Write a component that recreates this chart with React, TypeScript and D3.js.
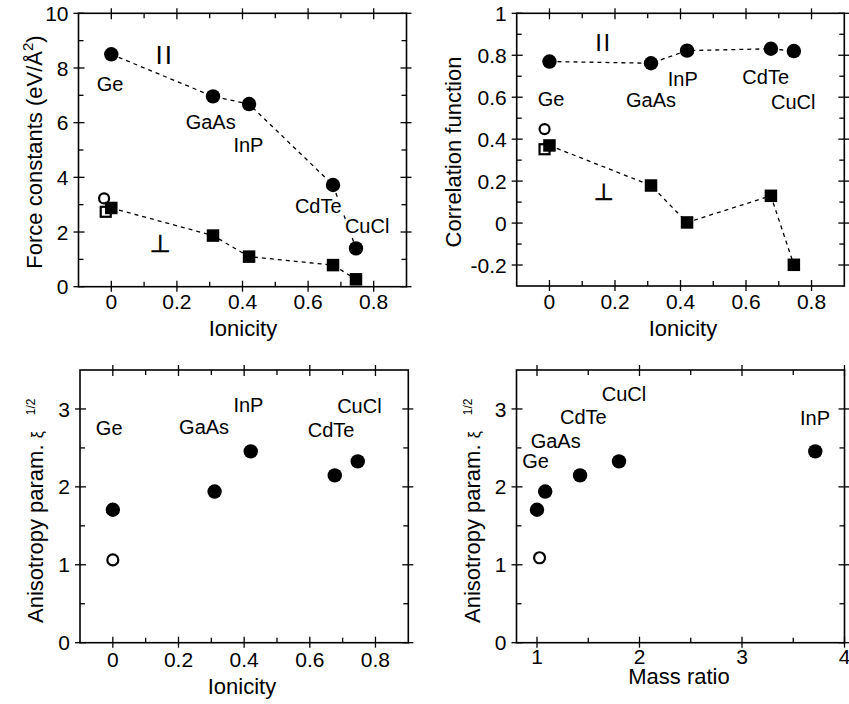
import React from "react";
import * as d3 from "d3";

// ---------- data ----------
const materials = ["Ge", "GaAs", "InP", "CdTe", "CuCl"];
const ionicity = [0, 0.31, 0.42, 0.676, 0.746];
const massRatio = [1.0, 1.08, 3.715, 1.42, 1.8];
const forceParallel = [8.5, 6.96, 6.68, 3.72, 1.4];
const forcePerp = [2.88, 1.87, 1.1, 0.79, 0.27];
const corrParallel = [0.77, 0.762, 0.822, 0.831, 0.82];
const corrPerp = [0.37, 0.179, 0.003, 0.13, -0.199];
const anisotropy = [1.706, 1.94, 2.455, 2.147, 2.327];

// open symbols (Ge reference values): [x, y]
const forceRefCircle = [-0.022, 3.23];
const forceRefSquare = [-0.017, 2.74];
const corrRefCircle = [-0.015, 0.448];
const corrRefSquare = [-0.015, 0.352];
const anisoRefIonicity = [0.0, 1.063];
const anisoRefMass = [1.025, 1.09];

// ticks
const ionTicks = [0, 0.2, 0.4, 0.6, 0.8];
const ionMinor = [-0.1, 0.1, 0.3, 0.5, 0.7, 0.9];
const forceTicks = [0, 2, 4, 6, 8, 10];
const forceMinor = [1, 3, 5, 7, 9];
const corrTicks = [-0.2, 0, 0.2, 0.4, 0.6, 0.8, 1];
const corrMinor = [-0.1, 0.1, 0.3, 0.5, 0.7, 0.9];
const anisoTicks = [0, 1, 2, 3];
const anisoMinor = [0.5, 1.5, 2.5];
const massTicks = [1, 2, 3, 4];
const massMinor = [1.5, 2.5, 3.5];

// label anchors in data coordinates (per panel, same order as materials)
const forceLabelX = [-0.004, 0.303, 0.418, 0.631, 0.78];
const forceLabelY = [7.16, 5.77, 4.94, 2.68, 1.95];
const corrLabelX = [0.005, 0.31, 0.407, 0.66, 0.744];
const corrLabelY = [0.558, 0.552, 0.653, 0.663, 0.542];
const anisoLabelX = [-0.011, 0.278, 0.413, 0.665, 0.751];
const anisoLabelY = [2.666, 2.675, 2.965, 2.644, 2.944];
const massLabelX = [0.987, 1.182, 3.712, 1.452, 1.849];
const massLabelY = [2.246, 2.503, 2.794, 2.803, 3.106];

const FONT = "'Liberation Sans', Arial, Helvetica, sans-serif";

type Box = { x0: number; x1: number; yb: number; yt: number };

function Frame({ box, xs, ys, xMajor, xMinor, yMajor, yMinor, xLabelY }: any) {
  const { x0, x1, yb, yt } = box;
  const out = 5, inn = 6, mn = 5;
  const els: any[] = [];
  xMajor.forEach((v: number, i: number) => {
    const x = xs(v);
    els.push(<line key={"xb" + i} x1={x} x2={x} y1={yb + out} y2={yb - inn} />);
    els.push(<line key={"xt" + i} x1={x} x2={x} y1={yt - out} y2={yt + inn} />);
  });
  xMinor.forEach((v: number, i: number) => {
    const x = xs(v);
    if (x <= x0 + 0.5 || x >= x1 - 0.5) return;
    els.push(<line key={"xbm" + i} x1={x} x2={x} y1={yb} y2={yb - mn} />);
    els.push(<line key={"xtm" + i} x1={x} x2={x} y1={yt} y2={yt + mn} />);
  });
  yMajor.forEach((v: number, i: number) => {
    const y = ys(v);
    els.push(<line key={"yl" + i} x1={x0 - out} x2={x0 + inn} y1={y} y2={y} />);
    els.push(<line key={"yr" + i} x1={x1 + out} x2={x1 - inn} y1={y} y2={y} />);
  });
  yMinor.forEach((v: number, i: number) => {
    const y = ys(v);
    if (y >= yb - 0.5 || y <= yt + 0.5) return;
    els.push(<line key={"ylm" + i} x1={x0} x2={x0 + mn} y1={y} y2={y} />);
    els.push(<line key={"yrm" + i} x1={x1} x2={x1 - mn} y1={y} y2={y} />);
  });
  return (
    <g>
      <rect x={x0} y={yt} width={x1 - x0} height={yb - yt} fill="none" stroke="#000" strokeWidth={1.6} />
      <g stroke="#000" strokeWidth={1.3}>{els}</g>
      <g fontFamily={FONT} fontSize={21} fill="#000">
        {xMajor.map((v: number, i: number) => (
          <text key={"xl" + i} x={xs(v)} y={xLabelY} textAnchor="middle">{String(v)}</text>
        ))}
        {yMajor.map((v: number, i: number) => (
          <text key={"yl" + i} x={x0 - 10} y={ys(v)} dy="0.36em" textAnchor="end">{String(v)}</text>
        ))}
      </g>
    </g>
  );
}

function Dashed({ xs, ys, xv, yv }: any) {
  const line = d3.line<number>().x((_, i) => xs(xv[i])).y((d) => ys(d));
  return <path d={line(yv) || ""} fill="none" stroke="#000" strokeWidth={1.3} strokeDasharray="4,4" />;
}

function Circles({ xs, ys, xv, yv }: any) {
  return (
    <g>
      {yv.map((v: number, i: number) => (
        <circle key={i} cx={xs(xv[i])} cy={ys(v)} r={7.2} fill="#000" />
      ))}
    </g>
  );
}

function Squares({ xs, ys, xv, yv }: any) {
  const s = 12.5;
  return (
    <g>
      {yv.map((v: number, i: number) => (
        <rect key={i} x={xs(xv[i]) - s / 2} y={ys(v) - s / 2} width={s} height={s} fill="#000" />
      ))}
    </g>
  );
}

function OpenCircle({ xs, ys, p, r = 5 }: any) {
  return <circle cx={xs(p[0])} cy={ys(p[1])} r={r} fill="#fff" stroke="#000" strokeWidth={2.2} />;
}
function OpenSquare({ xs, ys, p }: any) {
  const s = 10;
  return <rect x={xs(p[0]) - s / 2} y={ys(p[1]) - s / 2} width={s} height={s} fill="#fff" stroke="#000" strokeWidth={2.2} />;
}

function Labels({ xs, ys, lx, ly }: any) {
  return (
    <g fontFamily={FONT} fontSize={20} fill="#000" textAnchor="middle">
      {materials.map((m, i) => (
        <text key={m} x={xs(lx[i])} y={ys(ly[i])} stroke="#fff" strokeWidth={6} strokeLinejoin="round" style={{ paintOrder: "stroke" }}>{m}</text>
      ))}
    </g>
  );
}

export default function App() {
  // panel boxes
  const b1: Box = { x0: 78.5, x1: 406.5, yb: 286.7, yt: 13.3 };
  const b2: Box = { x0: 516.7, x1: 844.3, yb: 286.0, yt: 13.3 };
  const b3: Box = { x0: 80, x1: 408.3, yb: 642.7, yt: 370 };
  const b4: Box = { x0: 516.5, x1: 844.5, yb: 642.7, yt: 370 };

  const x1s = d3.scaleLinear().domain([-0.1, 0.9]).range([b1.x0, b1.x1]);
  const y1s = d3.scaleLinear().domain([0, 10]).range([b1.yb, b1.yt]);
  const x2s = d3.scaleLinear().domain([-0.1, 0.9]).range([b2.x0, b2.x1]);
  const y2s = d3.scaleLinear().domain([-0.3, 1]).range([b2.yb, b2.yt]);
  const x3s = d3.scaleLinear().domain([-0.1, 0.9]).range([b3.x0, b3.x1]);
  const y3s = d3.scaleLinear().domain([0, 3.5]).range([b3.yb, b3.yt]);
  const x4s = d3.scaleLinear().domain([0.8, 4]).range([b4.x0, b4.x1]);
  const y4s = d3.scaleLinear().domain([0, 3.5]).range([b4.yb, b4.yt]);

  const titleProps = { fontFamily: FONT, fontSize: 22, fill: "#000" };
  const perpProps = { fontFamily: "'DejaVu Sans', sans-serif", fill: "#000", stroke: "#000", strokeWidth: 0.7, textAnchor: "middle" as const };

  return (
    <div style={{ position: "absolute", left: 0, top: 0 }}>
      <svg width={849} height={704} style={{ display: "block", background: "#fff" }}>
        <rect x={0} y={0} width={849} height={704} fill="#fff" />

        {/* Panel 1: force constants */}
        <Frame box={b1} xs={x1s} ys={y1s} xMajor={ionTicks} xMinor={ionMinor} yMajor={forceTicks} yMinor={forceMinor} xLabelY={309} />
        <Dashed xs={x1s} ys={y1s} xv={ionicity} yv={forceParallel} />
        <Dashed xs={x1s} ys={y1s} xv={ionicity} yv={forcePerp} />
        <Labels xs={x1s} ys={y1s} lx={forceLabelX} ly={forceLabelY} />
        <Circles xs={x1s} ys={y1s} xv={ionicity} yv={forceParallel} />
        <OpenCircle xs={x1s} ys={y1s} p={forceRefCircle} />
        <OpenSquare xs={x1s} ys={y1s} p={forceRefSquare} />
        <Squares xs={x1s} ys={y1s} xv={ionicity} yv={forcePerp} />
        <text x={x1s(0.16)} y={y1s(8.13)} textAnchor="middle" fontFamily={FONT} fontSize={26} letterSpacing={2} dx={1}>II</text>
        <text {...perpProps} x={x1s(0.149)} y={y1s(1.28)} fontSize={24}>⊥</text>
        <text {...titleProps} x={243} y={336} textAnchor="middle">Ionicity</text>
        <text {...titleProps} transform="translate(42,152) rotate(-90)" textAnchor="middle">
          Force constants (eV/Å<tspan fontSize={15} dy={-9}>2</tspan><tspan dy={9}>)</tspan>
        </text>

        {/* Panel 2: correlation function */}
        <Frame box={b2} xs={x2s} ys={y2s} xMajor={ionTicks} xMinor={ionMinor} yMajor={corrTicks} yMinor={corrMinor} xLabelY={309} />
        <Dashed xs={x2s} ys={y2s} xv={ionicity} yv={corrParallel} />
        <Dashed xs={x2s} ys={y2s} xv={ionicity} yv={corrPerp} />
        <Labels xs={x2s} ys={y2s} lx={corrLabelX} ly={corrLabelY} />
        <Circles xs={x2s} ys={y2s} xv={ionicity} yv={corrParallel} />
        <OpenCircle xs={x2s} ys={y2s} p={corrRefCircle} />
        <OpenSquare xs={x2s} ys={y2s} p={corrRefSquare} />
        <Squares xs={x2s} ys={y2s} xv={ionicity} yv={corrPerp} />
        <text x={x2s(0.162)} y={y2s(0.822)} textAnchor="middle" fontFamily={FONT} fontSize={24} letterSpacing={1.7} dx={1}>II</text>
        <text {...perpProps} x={x2s(0.166)} y={y2s(0.11)} fontSize={23}>⊥</text>
        <text {...titleProps} x={683} y={336} textAnchor="middle">Ionicity</text>
        <text {...titleProps} transform="translate(461,152) rotate(-90)" textAnchor="middle">Correlation function</text>

        {/* Panel 3: anisotropy vs ionicity */}
        <Frame box={b3} xs={x3s} ys={y3s} xMajor={ionTicks} xMinor={ionMinor} yMajor={anisoTicks} yMinor={anisoMinor} xLabelY={667} />
        <Labels xs={x3s} ys={y3s} lx={anisoLabelX} ly={anisoLabelY} />
        <Circles xs={x3s} ys={y3s} xv={ionicity} yv={anisotropy} />
        <OpenCircle xs={x3s} ys={y3s} p={anisoRefIonicity} r={5.5} />
        <text {...titleProps} x={242} y={694} textAnchor="middle">Ionicity</text>
        <text {...titleProps} transform="translate(43,623) rotate(-90)" textAnchor="start">
          Anisotropy param. <tspan fontSize={16}>ξ</tspan><tspan fontSize={12} dx={16} dy={-8}>1/2</tspan>
        </text>

        {/* Panel 4: anisotropy vs mass ratio */}
        <Frame box={b4} xs={x4s} ys={y4s} xMajor={massTicks} xMinor={massMinor} yMajor={anisoTicks} yMinor={anisoMinor} xLabelY={664} />
        <Labels xs={x4s} ys={y4s} lx={massLabelX} ly={massLabelY} />
        <Circles xs={x4s} ys={y4s} xv={massRatio} yv={anisotropy} />
        <OpenCircle xs={x4s} ys={y4s} p={anisoRefMass} r={5.5} />
        <text {...titleProps} x={679} y={684} textAnchor="middle">Mass ratio</text>
        <text {...titleProps} transform="translate(480,623) rotate(-90)" textAnchor="start">
          Anisotropy param. <tspan fontSize={16}>ξ</tspan><tspan fontSize={12} dx={16} dy={-8}>1/2</tspan>
        </text>
      </svg>
    </div>
  );
}
